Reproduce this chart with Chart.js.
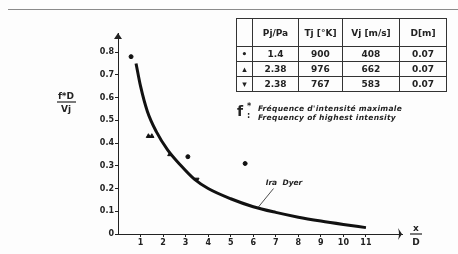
<!DOCTYPE html>
<html>
<head>
<meta charset="utf-8">
<script src="https://cdn.jsdelivr.net/npm/chart.js@4/dist/chart.umd.min.js"></script>
<style>
  body { margin: 0; background: #fff; }
  #wrap { position: relative; width: 458px; height: 254px; overflow: hidden; background: #fdfdfd; }
  #topline { position: absolute; left: 8px; top: 9px; width: 450px; height: 1px; background: #8a8a8a; }
  #jetTable { position: absolute; left: 236px; top: 18px; border-collapse: collapse;
    font-family: "DejaVu Sans", sans-serif; font-weight: bold; font-size: 9px; color: #222; }
  #jetTable td { border: 1px solid #333; padding: 0; text-align: center; height: 14px; line-height: 12px; }
  #jetTable tr.head td { height: 27px; }
  #note { position: absolute; left: 237px; top: 101px; font-family: "DejaVu Sans", sans-serif; color: #222; }
  #note .f { position: absolute; left: 0; top: 2px; font-size: 14px; font-weight: bold; }
  #note .sup { position: absolute; left: 10px; top: 1px; font-size: 8px; font-weight: bold; line-height: 9px; }
  #note .txt { position: absolute; left: 21px; top: 3px; font-size: 7.5px; font-style: italic; font-weight: bold;
    line-height: 9px; white-space: nowrap; letter-spacing: 0.3px; }
</style>
</head>
<body>
<div id="wrap">
  <canvas id="chart" width="458" height="254"></canvas>
  <div id="topline"></div>
  <table id="jetTable"></table>
  <div id="note"><span class="f">f</span><span class="sup">*<br>:</span><span class="txt">Fréquence d'intensité maximale<br>Frequency of highest intensity</span></div>
</div>
<script>
// values
const xTicks = [1, 2, 3, 4, 5, 6, 7, 8, 9, 10, 11];
const yTicks = [0, 0.1, 0.2, 0.3, 0.4, 0.5, 0.6, 0.7, 0.8];

// Ira Dyer curve
const curveX = [0.8, 1.0, 1.3, 1.7, 2.2, 2.8, 3.4, 4.0, 5.0, 6.0, 7.0, 8.0, 9.0, 10.0, 11.0];
const curveY = [0.75, 0.65, 0.54, 0.45, 0.37, 0.30, 0.24, 0.20, 0.155, 0.12, 0.095, 0.074, 0.057, 0.042, 0.028];

// measured points
const dotX = [0.58, 3.1, 5.64];
const dotY = [0.78, 0.34, 0.31];
const triX = [1.35, 1.5, 2.3];
const triY = [0.43, 0.43, 0.35];
const tri2X = [3.5];
const tri2Y = [0.24];

// table
const tableHead = ['', 'Pj/Pa', 'Tj [°K]', 'Vj [m/s]', 'D[m]'];
const tableMarks = ['•', '▴', '▾'];
const ratio = ['1.4', '2.38', '2.38'];
const tempK = ['900', '976', '767'];
const velocity = ['408', '662', '583'];
const diam = ['0.07', '0.07', '0.07'];
const colWidths = [15, 45, 43, 56, 46];

const table = document.getElementById('jetTable');
let head = document.createElement('tr');
head.className = 'head';
tableHead.forEach((h, i) => {
    let td = document.createElement('td');
    td.textContent = h;
    td.style.width = colWidths[i] + 'px';
    head.appendChild(td);
});
table.appendChild(head);
for (let i = 0; i < ratio.length; i++) {
    let row = document.createElement('tr');
    [tableMarks[i], ratio[i], tempK[i], velocity[i], diam[i]].forEach(v => {
        let td = document.createElement('td');
        td.textContent = v;
        row.appendChild(td);
    });
    table.appendChild(row);
}

function toPoints(xs, ys) {
    return xs.map((x, i) => ({ x: x, y: ys[i] }));
}

// arrows, axis titles and the Ira Dyer label
const extras = {
    id: 'extras',
    afterDraw(chart) {
        const ctx = chart.ctx;
        const xs = chart.scales.x, ys = chart.scales.y;
        const left = chart.chartArea.left, bottom = chart.chartArea.bottom;
        const top = chart.chartArea.top, right = chart.chartArea.right;
        ctx.save();
        ctx.strokeStyle = '#222';
        ctx.fillStyle = '#222';
        ctx.lineWidth = 1.2;
        // y arrow
        ctx.beginPath();
        ctx.moveTo(left - 4, top + 6);
        ctx.lineTo(left, top);
        ctx.lineTo(left + 4, top + 6);
        ctx.closePath();
        ctx.fill();
        // x arrow
        ctx.beginPath();
        ctx.moveTo(right - 4, bottom - 6);
        ctx.quadraticCurveTo(right - 2, bottom, right - 4, bottom + 6);
        ctx.lineTo(right, bottom);
        ctx.closePath();
        ctx.fill();

        ctx.textAlign = 'center';
        ctx.textBaseline = 'alphabetic';
        ctx.font = 'bold 9px "DejaVu Sans", sans-serif';
        // y title  f*D / Vj
        ctx.fillText('f*D', 66, 99);
        ctx.beginPath();
        ctx.moveTo(57, 102); ctx.lineTo(76, 102); ctx.stroke();
        ctx.fillText('Vj', 66, 112);
        // x title  x / D
        ctx.fillText('x', 416, 231);
        ctx.beginPath();
        ctx.moveTo(410, 234); ctx.lineTo(422, 234); ctx.stroke();
        ctx.fillText('D', 416, 245);

        // Ira Dyer
        ctx.font = 'bold italic 7.5px "DejaVu Sans", sans-serif';
        ctx.textAlign = 'left';
        ctx.fillText('Ira  Dyer', xs.getPixelForValue(6.55), ys.getPixelForValue(0.215));
        ctx.lineWidth = 0.8;
        ctx.beginPath();
        ctx.moveTo(xs.getPixelForValue(6.9), ys.getPixelForValue(0.2));
        ctx.lineTo(xs.getPixelForValue(6.2), ys.getPixelForValue(0.115));
        ctx.stroke();
        ctx.restore();
    }
};

const tickFont = { family: '"DejaVu Sans", sans-serif', size: 8, weight: 'bold' };

new Chart(document.getElementById('chart'), {
    type: 'scatter',
    data: {
        datasets: [
            {
                type: 'line',
                data: toPoints(curveX, curveY),
                borderColor: '#111',
                borderWidth: 3,
                pointRadius: 0,
                cubicInterpolationMode: 'monotone',
                fill: false
            },
            {
                data: toPoints(dotX, dotY),
                backgroundColor: '#111',
                borderColor: '#111',
                pointRadius: 2
            },
            {
                data: toPoints(triX, triY),
                pointStyle: 'triangle',
                backgroundColor: '#111',
                borderColor: '#111',
                pointRadius: 2.5
            },
            {
                data: toPoints(tri2X, tri2Y),
                pointStyle: 'triangle',
                rotation: 180,
                backgroundColor: '#111',
                borderColor: '#111',
                pointRadius: 2.5
            }
        ]
    },
    options: {
        responsive: false,
        animation: false,
        layout: { padding: { left: 88, right: 56, top: 33, bottom: 0 } },
        plugins: { legend: { display: false }, tooltip: { enabled: false } },
        scales: {
            x: {
                type: 'linear',
                min: 0,
                max: 12.6,
                afterBuildTicks: s => { s.ticks = xTicks.map(v => ({ value: v })); },
                afterFit: s => { s.height = 20; },
                ticks: { color: '#222', font: tickFont, padding: 1, maxRotation: 0 },
                grid: { display: true, drawOnChartArea: false, tickLength: 3, color: '#222' },
                border: { color: '#222', width: 1 }
            },
            y: {
                min: 0,
                max: 0.884,
                afterBuildTicks: s => { s.ticks = yTicks.map(v => ({ value: v })); },
                afterFit: s => { s.width = 30; },
                ticks: {
                    color: '#222', font: tickFont, padding: 1,
                    callback: v => v === 0 ? '0' : v.toFixed(1)
                },
                grid: { display: true, drawOnChartArea: false, tickLength: 3, color: '#222' },
                border: { color: '#222', width: 1 }
            }
        }
    },
    plugins: [extras]
});
</script>
</body>
</html>
